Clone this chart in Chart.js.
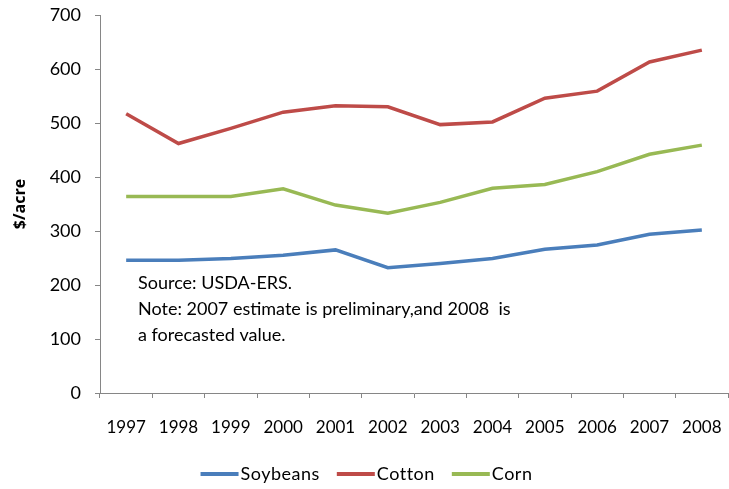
<!DOCTYPE html>
<html>
<head>
<meta charset="utf-8">
<script src="https://cdn.jsdelivr.net/npm/chart.js@4"></script>
<style>
  html, body { margin: 0; padding: 0; background: #fff; }
  #wrap { width: 729px; height: 489px; }
</style>
</head>
<body>
<div id="wrap"><canvas id="myChart" width="729" height="489"></canvas></div>
<script>
const years = ['1997','1998','1999','2000','2001','2002','2003','2004','2005','2006','2007','2008']
const soybeans = [246, 246, 249, 255, 265, 232, 240, 249, 266, 274, 294, 302]
const cotton = [517, 462, 490, 520, 532, 530, 497, 502, 546, 559, 613, 635]
const corn = [364, 364, 364, 378, 348, 333, 353, 379, 386, 410, 442, 459]
const yTicks = [0, 100, 200, 300, 400, 500, 600, 700]
const noteLines = [
  'Source: USDA-ERS.',
  'Note: 2007 estimate is preliminary,and 2008  is',
  'a forecasted value.'
]

const fontFamily = 'Lato, "Open Sans", sans-serif'
const axisColor = '#868686'

// source note inside the plot, legend under the axis
const extrasPlugin = {
  id: 'extrasPlugin',
  afterDraw(chart) {
    const ctx = chart.ctx
    const area = chart.chartArea
    ctx.save()
    ctx.font = '18px ' + fontFamily
    ctx.fillStyle = '#000'
    ctx.textBaseline = 'middle'
    noteLines.forEach((line, i) => {
      ctx.fillText(line, area.left + 38, 283 + i * 26)
    })

    // legend: short thick line then label
    ctx.letterSpacing = '0.5px'
    const lineW = 38, textGap = 2, itemGap = 17
    const items = chart.data.datasets.map(ds => ({ text: ds.label, color: ds.borderColor, w: ctx.measureText(ds.label).width }))
    let total = 0
    items.forEach((it, i) => { total += lineW + textGap + it.w + (i < items.length - 1 ? itemGap : 0) })
    let x = chart.width / 2 - total / 2 + 2
    const y = 474
    items.forEach(it => {
      ctx.strokeStyle = it.color
      ctx.lineWidth = 4
      ctx.beginPath()
      ctx.moveTo(x, y)
      ctx.lineTo(x + lineW, y)
      ctx.stroke()
      ctx.fillStyle = '#000'
      ctx.fillText(it.text, x + lineW + textGap, y)
      x += lineW + textGap + it.w + itemGap
    })
    ctx.restore()
  }
}

const dataChart = {
  labels: years,
  datasets: [
    { label: 'Soybeans', data: soybeans, borderColor: '#4a7ebb', backgroundColor: '#4a7ebb' },
    { label: 'Cotton', data: cotton, borderColor: '#be4b48', backgroundColor: '#be4b48' },
    { label: 'Corn', data: corn, borderColor: '#98b954', backgroundColor: '#98b954' }
  ]
}

const config = {
  type: 'line',
  data: dataChart,
  options: {
    responsive: false,
    animation: false,
    layout: { padding: { top: 15, right: 1, left: 0, bottom: 30 } },
    elements: {
      line: { borderWidth: 3.5, tension: 0 },
      point: { radius: 0 }
    },
    scales: {
      x: {
        offset: true,
        grid: { offset: true, drawOnChartArea: false, color: axisColor, tickLength: 5 },
        border: { color: axisColor, width: 1 },
        ticks: { color: '#000', font: { family: fontFamily, size: 17 }, padding: 19, maxRotation: 0 },
        afterFit(scale) {
          scale.height = 66
          scale.paddingLeft = 0
          scale.paddingRight = 0
        }
      },
      y: {
        min: 0,
        max: 700,
        afterBuildTicks(scale) { scale.ticks = yTicks.map(v => ({ value: v })) },
        grid: { drawOnChartArea: false, color: axisColor, tickLength: 5 },
        border: { color: axisColor, width: 1 },
        ticks: { color: '#000', font: { family: fontFamily, size: 18 }, padding: 14 },
        title: {
          display: true, text: '$/acre', color: '#000',
          font: { family: '"Open Sans", sans-serif', size: 16, weight: 'bold' },
          padding: { top: 11, bottom: 0 }
        },
        afterFit(scale) {
          scale.width = 100
          scale.paddingTop = 0
          scale.paddingBottom = 0
        }
      }
    },
    plugins: {
      tooltip: { enabled: false },
      legend: { display: false }
    }
  },
  plugins: [extrasPlugin]
}

const myChart = new Chart(document.getElementById('myChart'), config)
</script>
</body>
</html>
